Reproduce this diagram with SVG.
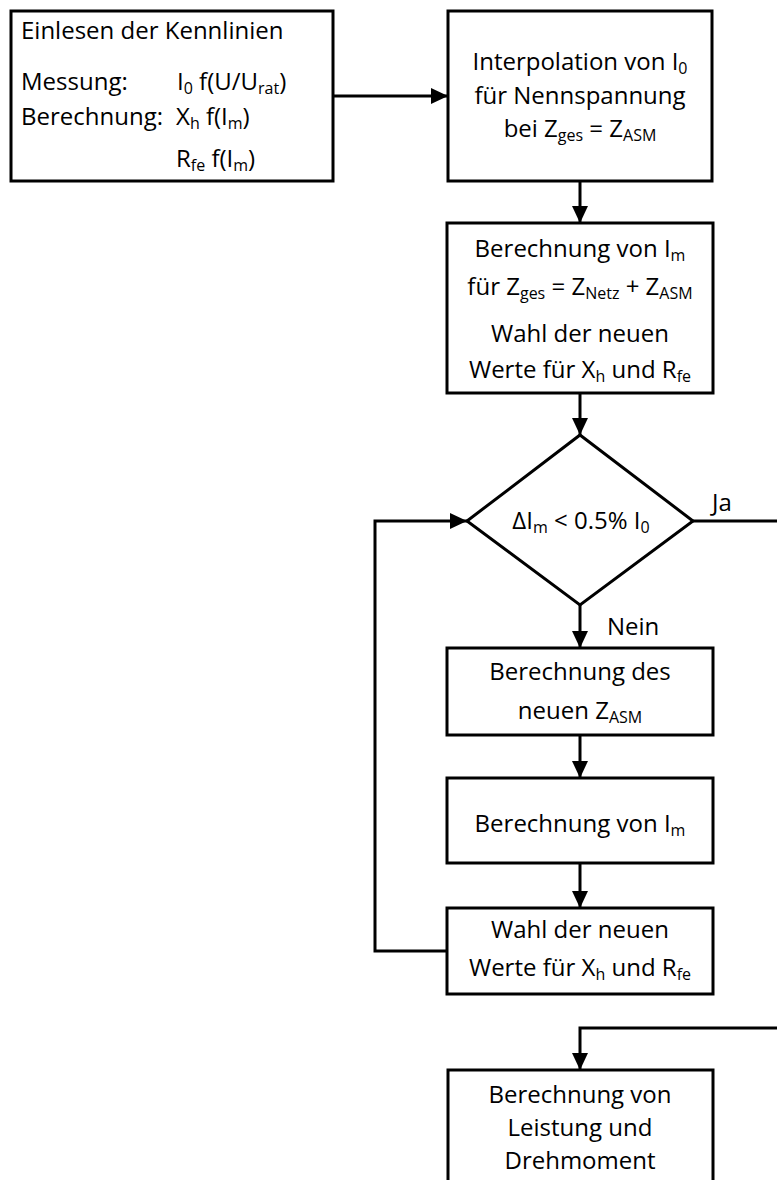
<svg xmlns="http://www.w3.org/2000/svg" width="777" height="1180" viewBox="0 0 777 1180">
<defs>
<style>
text{font-family:'Open Sans','Noto Sans',sans-serif;font-size:24px;fill:#000}
.c{text-anchor:middle}
.sub{font-size:16px}
.box{fill:#fff;stroke:#000;stroke-width:3}
.ln{fill:none;stroke:#000;stroke-width:3}
</style>
<marker id="ah" markerUnits="userSpaceOnUse" markerWidth="18" markerHeight="16" refX="17" refY="8" orient="auto">
<path d="M0,0 L17,8 L0,16 Z" fill="#000"/>
</marker>
</defs>
<rect width="777" height="1180" fill="#fff"/>
<g id="connectors">
<line class="ln" x1="333" y1="96" x2="448" y2="96" marker-end="url(#ah)"/>
<line class="ln" x1="580" y1="181" x2="580" y2="223" marker-end="url(#ah)"/>
<line class="ln" x1="580" y1="393" x2="580" y2="435" marker-end="url(#ah)"/>
<line class="ln" x1="580" y1="605" x2="580" y2="648" marker-end="url(#ah)"/>
<line class="ln" x1="580" y1="735" x2="580" y2="778" marker-end="url(#ah)"/>
<line class="ln" x1="580" y1="863" x2="580" y2="908" marker-end="url(#ah)"/>
<path class="ln" d="M447,951 H375 V521 H467" marker-end="url(#ah)"/>
<path class="ln" d="M693,521 H786 V1028 H580 V1070" marker-end="url(#ah)"/>
<text x="712" y="511">Ja</text>
<text x="607" y="635">Nein</text>
</g>
<g id="n1">
<rect class="box" x="11" y="11" width="322" height="170"/>
<text x="21" y="39">Einlesen der Kennlinien</text>
<text x="21" y="90">Messung:</text>
<text x="177" y="90">I<tspan class="sub" dy="4">0</tspan><tspan dy="-4"> f(U/U</tspan><tspan class="sub" dy="4">rat</tspan><tspan dy="-4">)</tspan></text>
<text x="21" y="125">Berechnung:</text>
<text x="176" y="125">X<tspan class="sub" dy="4">h</tspan><tspan dy="-4"> f(I</tspan><tspan class="sub" dy="4">m</tspan><tspan dy="-4">)</tspan></text>
<text x="176" y="167">R<tspan class="sub" dy="4">fe</tspan><tspan dy="-4"> f(I</tspan><tspan class="sub" dy="4">m</tspan><tspan dy="-4">)</tspan></text>
</g>
<g id="n2">
<rect class="box" x="448" y="11" width="264" height="170"/>
<text class="c" x="580" y="70">Interpolation von I<tspan class="sub" dy="4">0</tspan></text>
<text class="c" x="580" y="104">für Nennspannung</text>
<text class="c" x="580" y="137">bei Z<tspan class="sub" dy="4">ges</tspan><tspan dy="-4"> = Z</tspan><tspan class="sub" dy="4">ASM</tspan></text>
</g>
<g id="n3">
<rect class="box" x="447" y="223" width="266" height="170"/>
<text class="c" x="580" y="257">Berechnung von I<tspan class="sub" dy="4">m</tspan></text>
<text class="c" x="580" y="295">für Z<tspan class="sub" dy="4">ges</tspan><tspan dy="-4"> = Z</tspan><tspan class="sub" dy="4">Netz</tspan><tspan dy="-4"> + Z</tspan><tspan class="sub" dy="4">ASM</tspan></text>
<text class="c" x="580" y="342">Wahl der neuen</text>
<text class="c" x="580" y="378">Werte für X<tspan class="sub" dy="4">h</tspan><tspan dy="-4"> und R</tspan><tspan class="sub" dy="4">fe</tspan></text>
</g>
<g id="n4">
<polygon class="box" points="580,435 693,521 580,605 467,521"/>
<text class="c" x="581" y="529">ΔI<tspan class="sub" dy="4">m</tspan><tspan dy="-4"> &lt; 0.5% I</tspan><tspan class="sub" dy="4">0</tspan></text>
</g>
<g id="n5">
<rect class="box" x="447" y="648" width="266" height="87"/>
<text class="c" x="580" y="680">Berechnung des</text>
<text class="c" x="580" y="719">neuen Z<tspan class="sub" dy="4">ASM</tspan></text>
</g>
<g id="n6">
<rect class="box" x="447" y="778" width="266" height="85"/>
<text class="c" x="580" y="832">Berechnung von I<tspan class="sub" dy="4">m</tspan></text>
</g>
<g id="n7">
<rect class="box" x="447" y="908" width="266" height="86"/>
<text class="c" x="580" y="938">Wahl der neuen</text>
<text class="c" x="580" y="976">Werte für X<tspan class="sub" dy="4">h</tspan><tspan dy="-4"> und R</tspan><tspan class="sub" dy="4">fe</tspan></text>
</g>
<g id="n8">
<rect class="box" x="448" y="1070" width="265" height="140"/>
<text class="c" x="580" y="1103">Berechnung von</text>
<text class="c" x="580" y="1136">Leistung und</text>
<text class="c" x="580" y="1169">Drehmoment</text>
</g>
</svg>
